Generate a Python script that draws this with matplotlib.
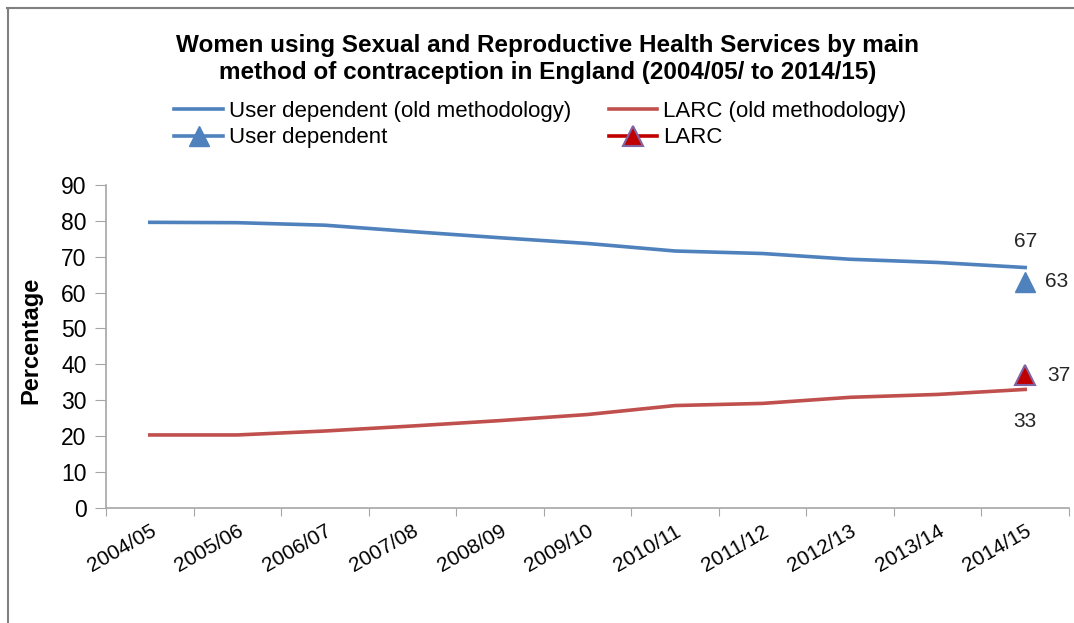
import numpy as np
import matplotlib.pyplot as plt
from matplotlib.lines import Line2D

years = ['2004/05', '2005/06', '2006/07', '2007/08', '2008/09', '2009/10',
         '2010/11', '2011/12', '2012/13', '2013/14', '2014/15']
user_old = [79.6, 79.5, 78.8, 77.0, 75.3, 73.7, 71.6, 70.9, 69.3, 68.4, 67.0]
larc_old = [20.3, 20.3, 21.4, 22.8, 24.3, 26.0, 28.5, 29.1, 30.8, 31.6, 33.0]
user_new = [np.nan] * 10 + [63]
larc_new = [np.nan] * 10 + [37]

blue = '#4f81bd'
red = '#c0504d'
dark_red = '#c00000'

plt.rcParams['font.family'] = ['Liberation Sans', 'DejaVu Sans']

fig = plt.figure(figsize=(10.74, 6.23), dpi=100)
ax = fig.add_axes([0.0987, 0.185, 0.8966, 0.518])

x = np.arange(len(years))
l1, = ax.plot(x, user_old, color=blue, lw=2.6, label='User dependent (old methodology)')
l2, = ax.plot(x, larc_old, color=red, lw=2.6, label='LARC (old methodology)')
l3, = ax.plot(x, user_new, color=blue, lw=2.6, marker='^', ms=14, mec=blue, label='User dependent')
l4, = ax.plot(x, larc_new, color=dark_red, lw=2.6, marker='^', ms=14, mec='#8064a2', mew=1.5, label='LARC')

ax.set_xlim(-0.5, len(years) - 0.5)
ax.set_ylim(0, 90)
ax.set_yticks(range(0, 91, 10))
ax.set_xticks(np.arange(-0.5, len(years), 1.0))
ax.set_xticklabels([])
ax.set_xticks(x, minor=True)
ax.set_xticklabels(years, minor=True, rotation=30, ha='right', va='top',
                   rotation_mode='anchor', fontsize=15)
ax.tick_params(axis='x', which='minor', length=0, pad=10)
ax.tick_params(axis='x', which='major', length=6, color='#a6a6a6', direction='out')
ax.tick_params(axis='y', length=8, color='#a6a6a6', labelsize=16.5, pad=6)

for s in ['top', 'right']:
    ax.spines[s].set_visible(False)
for s in ['left', 'bottom']:
    ax.spines[s].set_color('#a6a6a6')
    ax.spines[s].set_linewidth(1.2)

ax.set_ylabel('Percentage', fontsize=17, fontweight='bold')
ax.yaxis.set_label_coords(-0.066, 0.52)

# data labels
lab = dict(fontsize=15, color='#262626')
ax.annotate(f'{user_old[-1]:.0f}', (x[-1], user_old[-1]), xytext=(0, 12),
            textcoords='offset points', ha='center', va='bottom', **lab)
ax.annotate(f'{user_new[-1]:.0f}', (x[-1], user_new[-1]), xytext=(14, 0),
            textcoords='offset points', ha='left', va='center', **lab)
ax.annotate(f'{larc_new[-1]:.0f}', (x[-1], larc_new[-1]), xytext=(16, 0),
            textcoords='offset points', ha='left', va='center', **lab)
ax.annotate(f'{larc_old[-1]:.0f}', (x[-1], larc_old[-1]), xytext=(0, -16),
            textcoords='offset points', ha='center', va='top', **lab)

fig.text(0.51, 0.905, 'Women using Sexual and Reproductive Health Services by main\n'
         'method of contraception in England (2004/05/ to 2014/15)',
         ha='center', va='center', fontsize=17.5, fontweight='bold', linespacing=1.2)

fig.legend([l1, l3, l2, l4], [l1.get_label(), l3.get_label(), l2.get_label(), l4.get_label()],
           loc='center', bbox_to_anchor=(0.503, 0.80), ncol=2, frameon=False,
           prop={'size': 16}, handlelength=2.2, handletextpad=0.25,
           columnspacing=1.7, labelspacing=0.25)

# outer chart border
fig.add_artist(Line2D([0.0065, 1.0], [0.987, 0.987], color='#808080', lw=1.5,
                      transform=fig.transFigure))
fig.add_artist(Line2D([0.0075, 0.0075], [0.0, 0.987], color='#808080', lw=1.5,
                      transform=fig.transFigure))

fig.savefig('out.png', dpi=100)
